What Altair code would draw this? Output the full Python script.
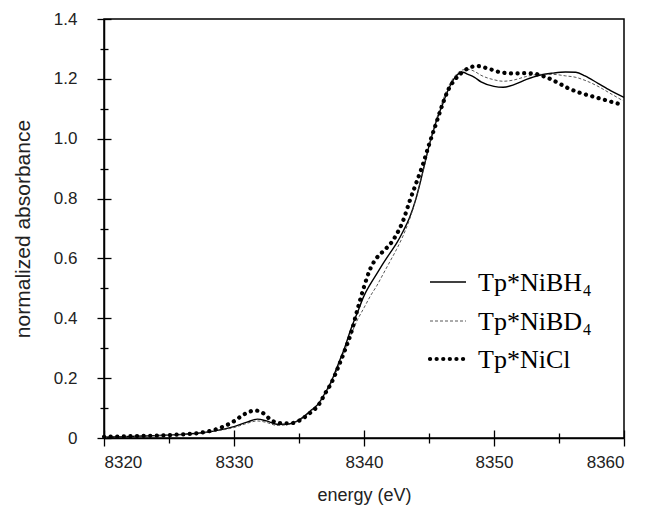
import altair as alt
import pandas as pd

# ---- data ----
energy_bh4 = [8320, 8322, 8324, 8326, 8327, 8328, 8329, 8330, 8331, 8331.8, 8332.5, 8333.3, 8334,
              8335, 8336, 8336.5, 8337, 8337.5, 8338, 8338.5, 8339, 8339.5, 8340, 8340.5, 8341,
              8341.5, 8342, 8342.5, 8343, 8343.5, 8344, 8344.5, 8345, 8345.5, 8346, 8346.5, 8347,
              8347.6, 8348, 8348.5, 8349, 8350, 8350.7, 8351.5, 8352.5, 8353.5, 8354.5, 8355.5,
              8356.3, 8357, 8358, 8359, 8360]
abs_bh4 = [0.003, 0.005, 0.008, 0.012, 0.015, 0.020, 0.028, 0.038, 0.053, 0.063, 0.057, 0.046, 0.046,
           0.060, 0.095, 0.115, 0.150, 0.190, 0.245, 0.300, 0.365, 0.420, 0.475, 0.515, 0.550,
           0.585, 0.618, 0.650, 0.690, 0.736, 0.800, 0.885, 0.975, 1.050, 1.110, 1.165, 1.205,
           1.222, 1.215, 1.205, 1.190, 1.175, 1.172, 1.180, 1.198, 1.212, 1.219, 1.223,
           1.222, 1.210, 1.185, 1.160, 1.138]

energy_bd4 = energy_bh4
abs_bd4 = [0.003, 0.005, 0.008, 0.011, 0.014, 0.019, 0.026, 0.035, 0.049, 0.057, 0.052, 0.042, 0.044,
           0.058, 0.092, 0.112, 0.145, 0.185, 0.235, 0.290, 0.345, 0.395, 0.435, 0.475, 0.510,
           0.550, 0.590, 0.630, 0.675, 0.730, 0.800, 0.885, 0.975, 1.055, 1.120, 1.175, 1.210,
           1.230, 1.232, 1.225, 1.212, 1.197, 1.192, 1.196, 1.208, 1.215, 1.215, 1.210,
           1.205, 1.195, 1.175, 1.150, 1.125]

energy_nicl = [8320, 8322, 8324, 8326, 8327, 8328, 8329, 8330, 8330.7, 8331.2, 8331.6, 8332.2, 8332.8,
               8333.4, 8334.3, 8335.1, 8335.8, 8336.5, 8337, 8337.5, 8338, 8338.5, 8339, 8339.5,
               8340, 8340.5, 8341, 8341.5, 8342, 8342.5, 8343, 8343.5, 8344, 8344.5, 8345, 8345.5,
               8346, 8346.5, 8347, 8347.5, 8348, 8348.7, 8349.5, 8350.5, 8351.5, 8352.5, 8353,
               8353.6, 8354.1, 8355, 8355.6, 8356.5, 8357.6, 8358.5, 8359.3, 8360]
abs_nicl = [0.004, 0.006, 0.008, 0.012, 0.015, 0.022, 0.035, 0.056, 0.077, 0.088, 0.092, 0.084, 0.062,
            0.050, 0.049, 0.060, 0.082, 0.110, 0.148, 0.185, 0.235, 0.290, 0.350, 0.430,
            0.505, 0.567, 0.603, 0.625, 0.647, 0.680, 0.725, 0.790, 0.850, 0.910, 0.980, 1.045,
            1.110, 1.165, 1.198, 1.220, 1.235, 1.243, 1.235, 1.222, 1.218, 1.219, 1.218,
            1.212, 1.204, 1.185, 1.171, 1.155, 1.141, 1.130, 1.120, 1.113]

legend_labels = ["Tp*NiBH", "Tp*NiBD", "Tp*NiCl"]
legend_subs = ["4", "4", ""]

x_major = [8320, 8330, 8340, 8350, 8360]
x_minor = [8325, 8335, 8345, 8355]
y_major = [0, 0.2, 0.4, 0.6, 0.8, 1.0, 1.2, 1.4]
y_minor = [0.1, 0.3, 0.5, 0.7, 0.9, 1.1, 1.3]

df_bh4 = pd.DataFrame({"E": energy_bh4, "A": abs_bh4})
df_bd4 = pd.DataFrame({"E": energy_bd4, "A": abs_bd4})
df_nicl = pd.DataFrame({"E": energy_nicl, "A": abs_nicl})

W, H = 520, 419
AX_FONT = "Liberation Sans"
LEG_FONT = "Liberation Serif"


def xs():
    return alt.Scale(domain=[8320, 8360], nice=False, zero=False)


def ys():
    return alt.Scale(domain=[0, 1.4], nice=False, zero=False)


def ax(orient, values, size, labels=False, domain=False, offset=0, title=None, **kw):
    return alt.Axis(orient=orient, values=values, tickSize=size, labels=labels, domain=domain,
                    offset=offset, title=title, grid=False, tickColor="black", tickWidth=1.3,
                    domainColor="black", domainWidth=1.5, **kw)


label_kw = dict(labelFont=AX_FONT, labelFontSize=17, labelColor="#222", titleFont=AX_FONT,
                titleFontWeight="normal", titleColor="#222")

bh4 = alt.Chart(df_bh4).mark_line(color="black", strokeWidth=1.4, interpolate="monotone").encode(
    x=alt.X("E:Q", scale=xs(),
            axis=ax("bottom", x_major, 8, labels=True, domain=True, title="energy (eV)",
                    labelPadding=8, titlePadding=16, titleFontSize=18, format="d", **label_kw)),
    y=alt.Y("A:Q", scale=ys(),
            axis=ax("left", y_major, 7, labels=True, domain=True, title="normalized absorbance",
                    labelPadding=20, titlePadding=20, titleFontSize=21,
                    labelExpr="datum.value == 0 ? '0' : format(datum.value, '.1f')", **label_kw)),
)

bd4 = alt.Chart(df_bd4).mark_line(color="#444", strokeWidth=0.9, strokeDash=[3, 2],
                                  interpolate="monotone").encode(
    x=alt.X("E:Q", scale=xs(), axis=ax("bottom", x_minor, 5)),
    y=alt.Y("A:Q", scale=ys(), axis=ax("left", y_minor, 4)),
)

nicl = alt.Chart(df_nicl).mark_line(color="black", strokeWidth=4.2, strokeDash=[0.1, 6.5],
                                    strokeCap="round", interpolate="monotone").encode(
    x=alt.X("E:Q", scale=xs(), axis=ax("top", x_major, 8, offset=-H)),
    y=alt.Y("A:Q", scale=ys(), axis=ax("right", y_major, 7, offset=-W)),
)

inv = alt.Chart(df_bh4).mark_point(opacity=0).encode(
    x=alt.X("E:Q", scale=xs(), axis=ax("top", x_minor, 5, offset=-H)),
    y=alt.Y("A:Q", scale=ys(), axis=ax("right", y_minor, 4, offset=-W)),
)

one = pd.DataFrame({"k": [0]})
leg_y = [263, 302, 340]
leg_styles = [
    dict(color="black", strokeWidth=1.4),
    dict(color="#444", strokeWidth=0.9, strokeDash=[3, 2]),
    dict(color="black", strokeWidth=4.2, strokeDash=[0.1, 6.5], strokeCap="round"),
]
legend_layers = []
for lab, sub, yy, st in zip(legend_labels, legend_subs, leg_y, leg_styles):
    legend_layers.append(
        alt.Chart(one).mark_rule(**st).encode(x=alt.value(326), x2=alt.value(362), y=alt.value(yy))
    )
    legend_layers.append(
        alt.Chart(one).mark_text(align="left", baseline="alphabetic", font=LEG_FONT, fontSize=26,
                                 color="black").encode(
            x=alt.value(374), y=alt.value(yy + 9), text=alt.value(lab))
    )
    if sub:
        legend_layers.append(
            alt.Chart(one).mark_text(align="left", baseline="alphabetic", font=LEG_FONT,
                                     fontSize=16, color="black").encode(
                x=alt.value(479), y=alt.value(yy + 14), text=alt.value(sub))
        )

chart = alt.layer(bh4, bd4, nicl, inv, *legend_layers).resolve_scale(
    x="independent", y="independent"
).properties(
    width=W, height=H,
    autosize=alt.AutoSizeParams(type="none"),
    padding={"left": 96, "top": 11, "right": 16, "bottom": 68},
).configure_view(stroke="black", strokeWidth=1.5)

chart.save("out.html", embed_options={"renderer": "svg", "actions": False})
